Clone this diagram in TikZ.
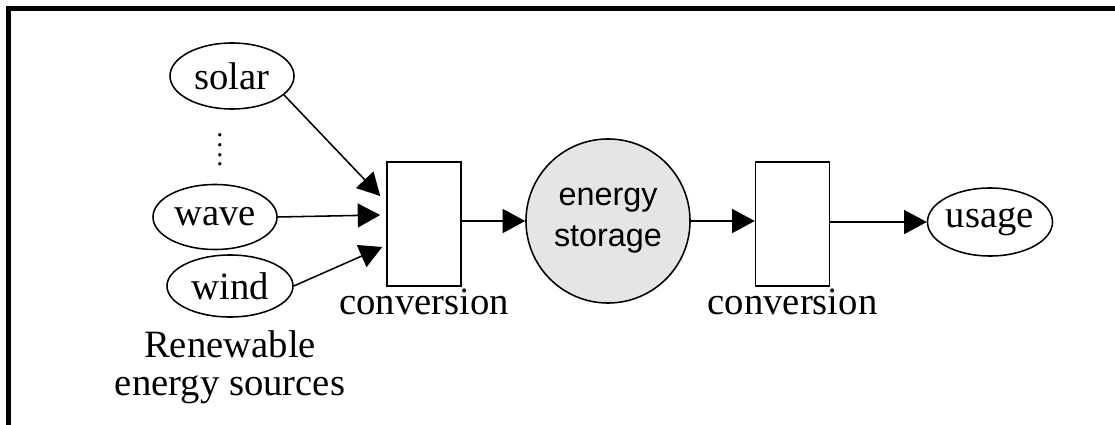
\documentclass[tikz,border=0pt]{standalone}
\usepackage{fontspec}
\setmainfont{Liberation Serif}
\setsansfont{Liberation Sans}
\usetikzlibrary{shapes.geometric, positioning, arrows.meta, calc}

\begin{document}
\begin{tikzpicture}[
        x=0.025cm, y=-0.025cm,
        every node/.style={
            align=center,
            inner sep=0pt,
            font=\fontsize{27.5}{25.6}\selectfont
        },
        source/.style={
            ellipse,
            draw,
            line width=1.1pt,
            minimum width=3.1cm,
            minimum height=1.65cm
        },
        convbox/.style={
            rectangle,
            draw,
            line width=1.1pt,
            minimum width=1.85cm,
            minimum height=3.1cm
        },
        storage/.style={
            circle,
            draw,
            fill=gray!20,
            line width=1.1pt,
            minimum size=4.1cm,
            font=\sffamily\fontsize{23}{29}\selectfont
        },
        arrow/.style={
            -{Triangle[length=16pt,width=17pt]},
            line width=1.1pt
        }
    ]

    \useasboundingbox (0,0) rectangle (1115,425);

    % Rahmen (nur oben und links sichtbar)
    \draw[line width=3.3pt] (8.5,425) -- (8.5,8.5) -- (1115,8.5);

    % Quellen
    \node[source] (solar) at (232,76) {solar};
    \node (dots) at (220,150) {\fontsize{20}{6.9}\selectfont
        \vbox{\baselineskip=6.9pt\lineskiplimit=-20pt\hbox{.}\hbox{.}\hbox{.}\hbox{.}}};
    \node[source, minimum height=1.625cm] (wave) at (215,217) {wave};
    \node[source, minimum width=3.15cm, minimum height=1.55cm] (wind) at (230,286) {wind};
    \node (sources) [below=0.32cm of wind, font=\fontsize{27.5}{27}\selectfont]
        {Renewable\\energy sources};

    % Umwandlung, Speicher, Nutzung
    \node[convbox] (conv1) at (424,224) {};
    \node (conv1label) [below=1pt of conv1] {conversion};
    \node[storage] (store) at (608,221) {energy\\storage};
    \node[convbox] (conv2) at (792.5,224) {};
    \node (conv2label) [below=1pt of conv2] {conversion};
    \node[source, minimum width=3.125cm, minimum height=1.7cm] (usage) at (990,222) {usage};

    % Pfeilenden am ersten Block
    \coordinate (in1) at ($(conv1.west)+(-6,-28)$);
    \coordinate (in2) at ($(conv1.west)+(-6,-9)$);
    \coordinate (in3) at ($(conv1.west)+(-4,23)$);

    % Energiefluss
    \draw[arrow] (solar.-20) -- (in1);
    \draw[arrow] (wave.east) -- (in2);
    \draw[arrow] (wind.east) -- (in3);
    \draw[arrow] (conv1.east |- store) -- (store);
    \draw[arrow] (store) -- (store -| conv2.west);
    \draw[arrow] (conv2.east |- usage) -- (usage);

\end{tikzpicture}
\end{document}
